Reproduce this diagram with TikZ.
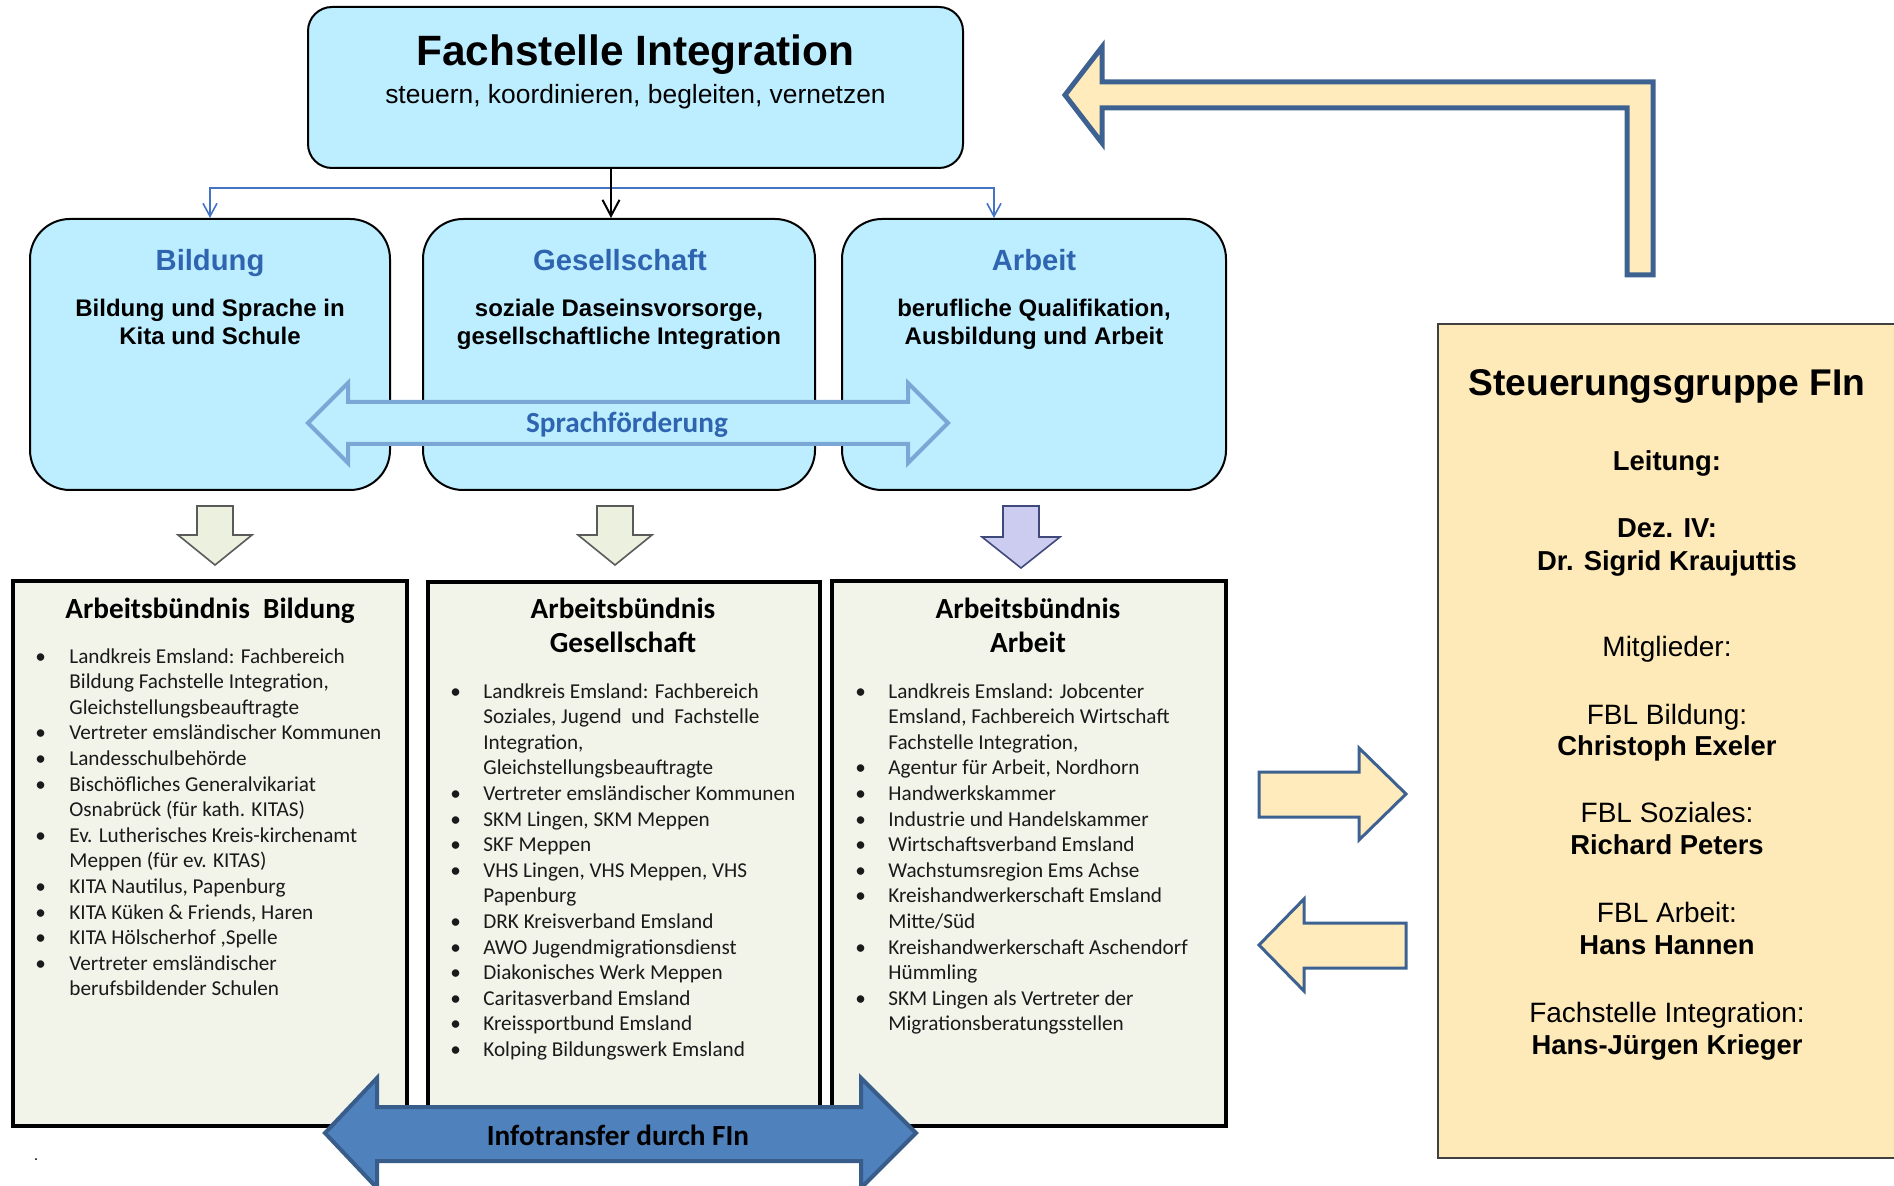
\documentclass[tikz,border=0pt]{standalone}
\usepackage{fontspec}
\setmainfont{Liberation Sans}
\newfontfamily\calib{Carlito}
\usetikzlibrary{arrows.meta}
\definecolor{boxblue}{HTML}{BDEEFF}
\definecolor{titleblue}{HTML}{2F64B0}
\definecolor{sprachline}{HTML}{7BA7D7}
\definecolor{listfill}{HTML}{F2F4EA}
\definecolor{steuerfill}{HTML}{FEE9B8}
\definecolor{steuerline}{HTML}{404040}
\definecolor{yfill}{HTML}{FFEBBB}
\definecolor{yline}{HTML}{3D6291}
\definecolor{infofill}{HTML}{4F81BD}
\definecolor{infoline}{HTML}{385D8A}
\definecolor{conblue}{HTML}{4472C4}
\definecolor{greenfill}{HTML}{EBF1DE}
\definecolor{greenline}{HTML}{5A5A5A}
\definecolor{lavfill}{HTML}{CCCBF0}
\definecolor{lavline}{HTML}{404A7A}
\definecolor{listtext}{HTML}{1A1A1A}
\tikzset{
  roundbox/.style={draw=black, line width=1pt, fill=boxblue, inner sep=0pt, rounded corners=20pt},
  listbox/.style={draw=black, line width=2pt, fill=listfill, inner sep=0pt},
  bigtitle/.style={anchor=base, inner sep=0pt, font=\fontsize{21.2}{25}\selectfont\bfseries},
  subtitle/.style={anchor=base, inner sep=0pt, font=\fontsize{13.2}{16}\selectfont},
  areatitle/.style={anchor=base, inner sep=0pt, text=titleblue, font=\fontsize{14.6}{17}\selectfont\bfseries},
  areatext/.style={anchor=base, inner sep=0pt, font=\fontsize{12}{14.5}\selectfont\bfseries},
  abhead/.style={anchor=base, inner sep=0pt, font=\calib\fontsize{14.6}{17}\selectfont\bfseries},
  listnode/.style={anchor=base west, inner sep=0pt, text=listtext, font=\calib\fontsize{10.6}{12.8}\selectfont},
  sgtitle/.style={anchor=base, inner sep=0pt, font=\fontsize{18.6}{22}\selectfont\bfseries},
  sgbold/.style={anchor=base, inner sep=0pt, font=\fontsize{13.7}{16.5}\selectfont\bfseries},
  sgreg/.style={anchor=base, inner sep=0pt, font=\fontsize{14}{16.5}\selectfont},
  blackcon/.style={draw=black, line width=1pt, -{Straight Barb[length=8pt,width=8.5pt]}},
  bluecon/.style={draw=conblue, line width=0.8pt, {Straight Barb[length=6.5pt,width=7pt]}-{Straight Barb[length=6.5pt,width=7pt]}},
  sprach/.style={draw=sprachline, line width=2pt, fill=boxblue},
  greenarrow/.style={draw=greenline, line width=0.8pt, fill=greenfill},
  lavarrow/.style={draw=lavline, line width=0.8pt, fill=lavfill},
  yarrow/.style={draw=yline, line width=1.5pt, fill=yfill},
  larrow/.style={draw=yline, line width=2.5pt, fill=yfill},
  infoarrow/.style={draw=infoline, line width=2pt, fill=infofill}
}
\begin{document}
\begin{tikzpicture}[x=0.5pt,y=-0.5pt]
\useasboundingbox (0,0) rectangle (1894,1186);
\clip (0,0) rectangle (1894,1186);

% ---- L-shaped arrow (top right)
\draw[larrow] (1065,95) -- (1102,47) -- (1102,82) -- (1653,82) -- (1653,275) -- (1627,275) -- (1627,108) -- (1102,108) -- (1102,143) -- cycle;

% ---- top box
\node[roundbox, rounded corners=12pt, minimum width=327.5pt, minimum height=80.5pt] (fi) at (635.5,87.5) {};
\node[bigtitle] (fiT) at (635.5,66) {Fachstelle Integration};
\node[subtitle] (fiS) at (635.5,104) {steuern, koordinieren, begleiten, vernetzen};

% ---- second row
\node[roundbox, minimum width=180pt, minimum height=135.5pt] (bil) at (210,354.5) {};
\node[roundbox, minimum width=196pt, minimum height=135.5pt] (ges) at (619,354.5) {};
\node[roundbox, minimum width=192pt, minimum height=135.5pt] (arb) at (1034,354.5) {};

\node[areatitle] (bilT) at (210,271) {Bildung};
\node[areatext] (bilA) at (210,317) {Bildung und Sprache in};
\node[areatext] (bilB) at (210,345) {Kita und Schule};

\node[areatitle] (gesT) at (620,271) {Gesellschaft};
\node[areatext] (gesA) at (619,317) {soziale Daseinsvorsorge,};
\node[areatext] (gesB) at (619,345) {gesellschaftliche Integration};

\node[areatitle] (arbT) at (1034,271) {Arbeit};
\node[areatext] (arbA) at (1034,317) {berufliche Qualifikation,};
\node[areatext] (arbB) at (1034,345) {Ausbildung und Arbeit};

% ---- connectors
\coordinate (jb) at (210,188);
\coordinate (ja) at (994,188);
\coordinate (jg) at (611,188);
\draw[bluecon] (bil.north -| jb) -- (jb) -- (ja) -- (arb.north -| ja);
\draw[blackcon] (fi.south -| jg) -- (ges.north -| jg);

% ---- Sprachfoerderung arrow
\draw[sprach] (308,423) -- (348,383) -- (348,402) -- (908,402) -- (908,383) -- (948,423) -- (908,463) -- (908,444) -- (348,444) -- (348,463) -- cycle;
\node[anchor=base, inner sep=0pt, text=titleblue, font=\calib\fontsize{14.6}{17}\selectfont\bfseries] (spr) at (627,433) {Sprachförderung};

% ---- down block arrows
\draw[greenarrow] (197,506) -- (233,506) -- (233,535) -- (252,535) -- (215,565) -- (178,535) -- (197,535) -- cycle;
\draw[greenarrow] (597,506) -- (633,506) -- (633,535) -- (652,535) -- (615,565) -- (578,535) -- (597,535) -- cycle;
\draw[lavarrow] (1003,506) -- (1039,506) -- (1039,537) -- (1060,537) -- (1021,568) -- (982,537) -- (1003,537) -- cycle;

% ---- bottom boxes
\node[listbox, minimum width=197pt, minimum height=272.5pt] (abB) at (210,853.5) {};
\node[listbox, minimum width=196pt, minimum height=269pt] (abG) at (624,851) {};
\node[listbox, minimum width=197pt, minimum height=272.5pt] (abA) at (1029,853.5) {};

\node[abhead] (abBh) at (210,619) {Arbeitsbündnis\ \ Bildung};
\node[abhead] (abGh1) at (623,619) {Arbeitsbündnis};
\node[abhead] (abGh2) at (623,653) {Gesellschaft};
\node[abhead] (abAh1) at (1028,619) {Arbeitsbündnis};
\node[abhead] (abAh2) at (1028,653) {Arbeit};

\node[listnode] (lB) at (35,663) {\begin{tabular}[t]{@{}p{17pt}@{}l@{}}
\textbullet & Landkreis Emsland: Fachbereich\\
 & Bildung Fachstelle Integration,\\
 & Gleichstellungsbeauftragte\\
\textbullet & Vertreter emsländischer Kommunen\\
\textbullet & Landesschulbehörde\\
\textbullet & Bischöfliches Generalvikariat\\
 & Osnabrück (für kath. KITAS)\\
\textbullet & Ev. Lutherisches Kreis-kirchenamt\\
 & Meppen (für ev. KITAS)\\
\textbullet & KITA Nautilus, Papenburg\\
\textbullet & KITA Küken \& Friends, Haren\\
\textbullet & KITA Hölscherhof ,Spelle\\
\textbullet & Vertreter emsländischer\\
 & berufsbildender Schulen
\end{tabular}};

\node[listnode] (lG) at (450,698) {\begin{tabular}[t]{@{}p{16.5pt}@{}l@{}}
\textbullet & Landkreis Emsland: Fachbereich\\
 & Soziales, Jugend\ \ und\ \ Fachstelle\\
 & Integration,\\
 & Gleichstellungsbeauftragte\\
\textbullet & Vertreter emsländischer Kommunen\\
\textbullet & SKM Lingen, SKM Meppen\\
\textbullet & SKF Meppen\\
\textbullet & VHS Lingen, VHS Meppen, VHS\\
 & Papenburg\\
\textbullet & DRK Kreisverband Emsland\\
\textbullet & AWO Jugendmigrationsdienst\\
\textbullet & Diakonisches Werk Meppen\\
\textbullet & Caritasverband Emsland\\
\textbullet & Kreissportbund Emsland\\
\textbullet & Kolping Bildungswerk Emsland
\end{tabular}};

\node[listnode] (lA) at (855,698) {\begin{tabular}[t]{@{}p{16.5pt}@{}l@{}}
\textbullet & Landkreis Emsland: Jobcenter\\
 & Emsland, Fachbereich Wirtschaft\\
 & Fachstelle Integration,\\
\textbullet & Agentur für Arbeit, Nordhorn\\
\textbullet & Handwerkskammer\\
\textbullet & Industrie und Handelskammer\\
\textbullet & Wirtschaftsverband Emsland\\
\textbullet & Wachstumsregion Ems Achse\\
\textbullet & Kreishandwerkerschaft Emsland\\
 & Mitte/Süd\\
\textbullet & Kreishandwerkerschaft Aschendorf\\
 & Hümmling\\
\textbullet & SKM Lingen als Vertreter der\\
 & Migrationsberatungsstellen
\end{tabular}};

% ---- Infotransfer arrow
\draw[infoarrow] (325,1133) -- (377,1078) -- (377,1107) -- (861,1107) -- (861,1078) -- (916,1133) -- (861,1188) -- (861,1161) -- (377,1161) -- (377,1188) -- cycle;
\node[abhead] (info) at (618,1145) {Infotransfer durch FIn};

\node[anchor=base, inner sep=0pt, font=\fontsize{8}{9}\selectfont] (dot) at (36,1160) {.};

% ---- yellow arrows
\draw[yarrow] (1259,772) -- (1359,772) -- (1359,748) -- (1406,794) -- (1359,840) -- (1359,817) -- (1259,817) -- cycle;
\draw[yarrow] (1259,945) -- (1304,899) -- (1304,923) -- (1406,923) -- (1406,968) -- (1304,968) -- (1304,991) -- cycle;

% ---- Steuerungsgruppe
\node[draw=steuerline, line width=1pt, fill=steuerfill, inner sep=0pt, minimum width=236pt, minimum height=417pt] (sg) at (1674,741) {};
\node[sgtitle] (sgT) at (1667,396) {Steuerungsgruppe FIn};
\node[sgbold] (sg1) at (1667,471) {Leitung:};
\node[sgbold] (sg2) at (1667,538) {Dez. IV:};
\node[sgbold] (sg3) at (1667,571) {Dr. Sigrid Kraujuttis};
\node[sgreg] (sg4) at (1667,656) {Mitglieder:};
\node[sgreg] (sg5) at (1667,724) {FBL Bildung:};
\node[sgbold] (sg6) at (1667,755) {Christoph Exeler};
\node[sgreg] (sg7) at (1667,822) {FBL Soziales:};
\node[sgbold] (sg8) at (1667,854) {Richard Peters};
\node[sgreg] (sg9) at (1667,922) {FBL Arbeit:};
\node[sgbold] (sg10) at (1667,954) {Hans Hannen};
\node[sgreg] (sg11) at (1667,1022) {Fachstelle Integration:};
\node[sgbold] (sg12) at (1667,1054) {Hans-Jürgen Krieger};
\end{tikzpicture}
\end{document}
